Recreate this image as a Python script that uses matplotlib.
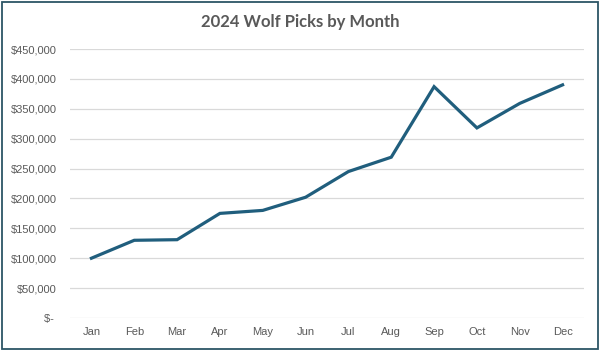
import matplotlib.pyplot as plt
from matplotlib.patches import Rectangle

months = ['Jan', 'Feb', 'Mar', 'Apr', 'May', 'Jun', 'Jul', 'Aug', 'Sep', 'Oct', 'Nov', 'Dec']
picks = [100000, 130000, 131000, 175000, 180000, 202000, 245000, 269000, 387000, 318000, 359000, 390000]
yticks = [0, 50000, 100000, 150000, 200000, 250000, 300000, 350000, 400000, 450000]

grey = '#595959'
plt.rcParams['font.family'] = 'Liberation Sans'

fig = plt.figure(figsize=(6.01, 3.51), dpi=100)
ax = fig.add_axes([70 / 601, 1 - 318 / 351, 514 / 601, 269 / 351])

x = range(len(months))
ax.plot(x, picks, color='#205E7D', lw=2.3, solid_joinstyle='miter', zorder=3)

ax.set_xlim(-0.5, len(months) - 0.5)
ax.set_ylim(0, 450000)
ax.set_xticks(list(x))
ax.set_xticklabels(months)
ax.set_yticks(yticks)
ax.set_yticklabels(['$- ' if v == 0 else '${:,.0f}'.format(v) for v in yticks])
ax.tick_params(length=0, labelsize=8, colors=grey)
ax.tick_params(axis='x', pad=6.5)
ax.tick_params(axis='y', pad=9.5)
ax.grid(axis='y', color='#D9D9D9', lw=0.9)
ax.set_axisbelow(True)
for s in ax.spines.values():
    s.set_visible(False)

fig.text(0.5, 1 - 22 / 351, '2024 Wolf Picks by Month', ha='center', va='center',
         fontsize=12, fontweight='bold', color=grey, family='Lato')

# chart border
fig.patches.append(Rectangle((0.004, 0.006), 0.991, 0.988, transform=fig.transFigure,
                             fill=False, edgecolor='#2C5566', lw=1.3))

fig.savefig('out.png', dpi=100)
